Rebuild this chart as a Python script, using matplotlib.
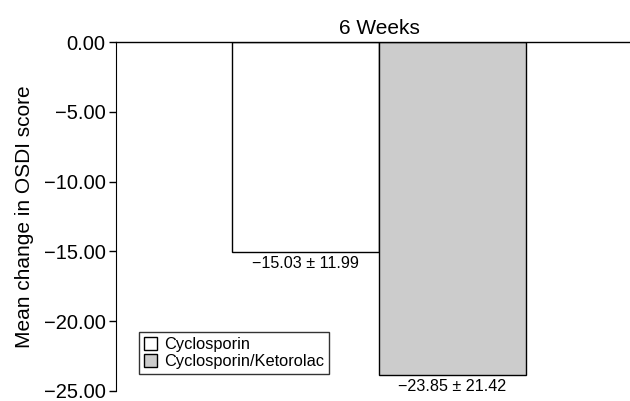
import matplotlib.pyplot as plt
from matplotlib.patches import Patch

plt.rcParams['font.family'] = ['Liberation Sans', 'DejaVu Sans']

groups = ["Cyclosporin", "Cyclosporin/Ketorolac"]
means = [-15.03, -23.85]
sds = [11.99, 21.42]
colors = ["white", "#cccccc"]
yticks = [0, -5, -10, -15, -20, -25]

fig = plt.figure(figsize=(6.3, 4.01), dpi=100)
ax = fig.add_axes([116/630, 1 - 391/401, 1 - 116/630, (391 - 42)/401])

x = list(range(len(means)))
ax.bar(x, means, width=1.0, color=colors, edgecolor="black", linewidth=1.0)

for xi, m, s in zip(x, means, sds):
    ax.text(xi, m - 0.3, f"\u2212{abs(m):.2f} \u00b1 {s:.2f}",
            ha="center", va="top", fontsize=11.6)

ax.set_xlim(-1.289, 2.207)
ax.set_ylim(-25, 0)
ax.set_yticks(yticks)
ax.set_yticklabels([f"{t:.2f}".replace("-", "\u2212") for t in yticks], fontsize=14.5)
ax.set_xticks([])
ax.tick_params(axis="y", direction="out", length=5, width=1, pad=2.5)
ax.spines["right"].set_visible(False)
ax.spines["bottom"].set_visible(False)
ax.spines["top"].set_linewidth(1.0)
ax.set_ylabel("Mean change in OSDI score", fontsize=15, labelpad=7)
ax.set_title("6 Weeks", fontsize=15, pad=6, x=(379 - 116) / 514)

handles = [Patch(facecolor=c, edgecolor="black", label=g) for c, g in zip(colors, groups)]
ax.legend(handles=handles, loc="lower left", bbox_to_anchor=(0.045, 0.049),
          fontsize=11.8, frameon=True, fancybox=False, edgecolor="black",
          handlelength=0.8, handleheight=0.8, handletextpad=0.4,
          borderpad=0.3, labelspacing=0.1, borderaxespad=0)

fig.savefig("out.png", dpi=100)
